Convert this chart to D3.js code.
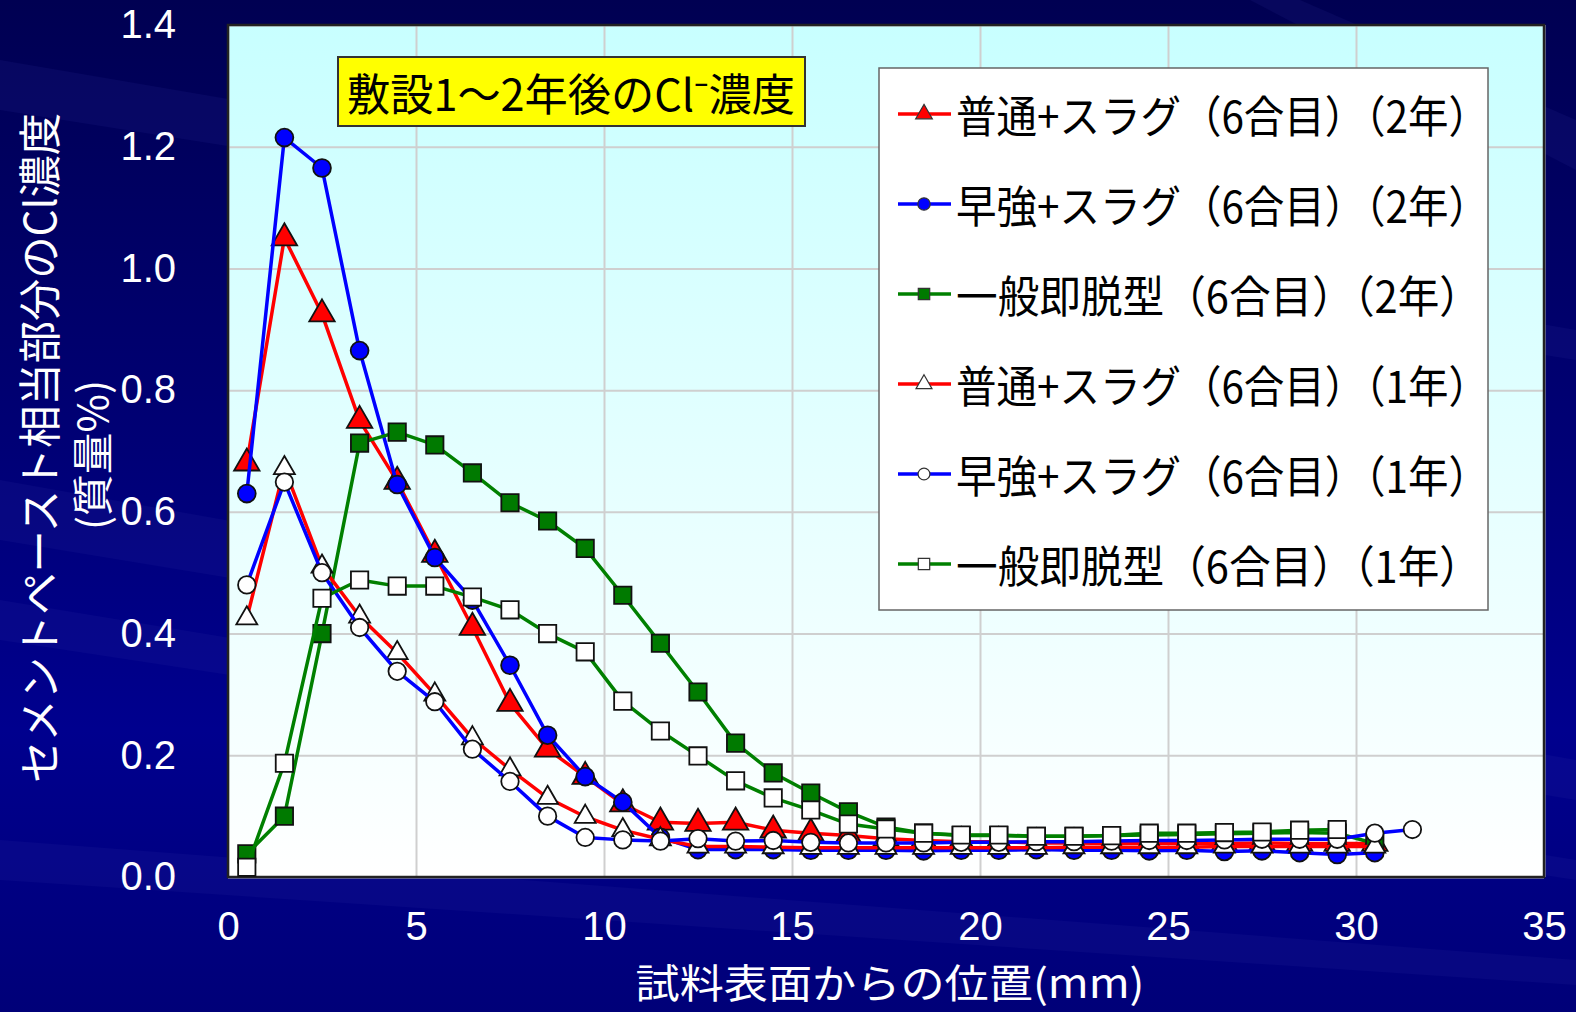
<!DOCTYPE html>
<html>
<head>
<meta charset="utf-8">
<script src="https://cdn.jsdelivr.net/npm/d3@7"></script>
<style>
body { margin: 0; background: #000070; }
svg { display: block; }
</style>
</head>
<body>
<svg class="chart"></svg>
<script>
// depth from the sample surface (mm)
const depthMm = [0.5, 1.5, 2.5, 3.5, 4.5, 5.5, 6.5, 7.5, 8.5, 9.5, 10.5, 11.5, 12.5, 13.5, 14.5, 15.5,
  16.5, 17.5, 18.5, 19.5, 20.5, 21.5, 22.5, 23.5, 24.5, 25.5, 26.5, 27.5, 28.5, 29.5, 30.5];
const depthMmLong = [0.5, 1.5, 2.5, 3.5, 4.5, 5.5, 6.5, 7.5, 8.5, 9.5, 10.5, 11.5, 12.5, 13.5, 14.5, 15.5,
  16.5, 17.5, 18.5, 19.5, 20.5, 21.5, 22.5, 23.5, 24.5, 25.5, 26.5, 27.5, 28.5, 29.5, 30.5, 31.5];
const depthMmShort = [0.5, 1.5, 2.5, 3.5, 4.5, 5.5, 6.5, 7.5, 8.5, 9.5, 10.5, 11.5, 12.5, 13.5, 14.5, 15.5,
  16.5, 17.5, 18.5, 19.5, 20.5, 21.5, 22.5, 23.5, 24.5, 25.5, 26.5, 27.5, 28.5, 29.5];

// Cl concentration (mass %)
const futsuSlag2 = [0.68, 1.05, 0.925, 0.75, 0.65, 0.53, 0.41, 0.285, 0.21, 0.165, 0.12, 0.09, 0.088, 0.09, 0.077, 0.072,
  0.068, 0.063, 0.06, 0.058, 0.058, 0.056, 0.056, 0.055, 0.056, 0.055, 0.055, 0.056, 0.055, 0.055, 0.055];
const soukyouSlag2 = [0.63, 1.215, 1.165, 0.865, 0.645, 0.525, 0.455, 0.348, 0.233, 0.165, 0.123, 0.065, 0.045, 0.045, 0.045, 0.044,
  0.044, 0.044, 0.043, 0.044, 0.044, 0.045, 0.044, 0.044, 0.043, 0.044, 0.042, 0.043, 0.04, 0.037, 0.04];
const ippan2 = [0.038, 0.1, 0.4, 0.713, 0.731, 0.71, 0.664, 0.615, 0.585, 0.54, 0.463, 0.384, 0.304, 0.22, 0.171, 0.138,
  0.107, 0.082, 0.072, 0.068, 0.068, 0.067, 0.067, 0.068, 0.069, 0.07, 0.071, 0.072, 0.073, 0.072, 0.055];
const futsuSlag1 = [0.425, 0.672, 0.51, 0.428, 0.368, 0.3, 0.228, 0.177, 0.13, 0.099, 0.077, 0.062, 0.05, 0.05, 0.049, 0.048,
  0.048, 0.048, 0.048, 0.048, 0.048, 0.048, 0.049, 0.049, 0.049, 0.049, 0.05, 0.05, 0.05, 0.05, 0.05];
const soukyouSlag1 = [0.48, 0.649, 0.5, 0.41, 0.338, 0.288, 0.21, 0.157, 0.1, 0.065, 0.061, 0.059, 0.063, 0.059, 0.06, 0.057,
  0.056, 0.056, 0.056, 0.057, 0.057, 0.058, 0.058, 0.059, 0.06, 0.06, 0.061, 0.062, 0.062, 0.062, 0.072, 0.078];
const ippan1 = [0.016, 0.187, 0.458, 0.488, 0.478, 0.478, 0.46, 0.439, 0.4, 0.37, 0.289, 0.24, 0.199, 0.158, 0.13, 0.11,
  0.087, 0.079, 0.072, 0.069, 0.069, 0.067, 0.067, 0.068, 0.072, 0.072, 0.073, 0.074, 0.077, 0.078];

const seriesNames = [
  "普通+スラグ（6合目）（2年）",
  "早強+スラグ（6合目）（2年）",
  "一般即脱型（6合目）（2年）",
  "普通+スラグ（6合目）（1年）",
  "早強+スラグ（6合目）（1年）",
  "一般即脱型（6合目）（1年）"
];
const xTicks = [0, 5, 10, 15, 20, 25, 30, 35];
const yTicks = [0, 0.2, 0.4, 0.6, 0.8, 1.0, 1.2, 1.4];
const titleText = "敷設1～2年後のCl⁻濃度";
const xTitle = "試料表面からの位置(mm)";
const yTitle1 = "セメントペースト相当部分のCl濃度";
const yTitle2 = "(質量%)";

const W = 1576, H = 1012;
const margin = {top: 25, right: 32, bottom: 135, left: 228};
const width = W - margin.left - margin.right;
const height = H - margin.top - margin.bottom;

const series = [
  {name: seriesNames[0], xs: depthMm, ys: futsuSlag2, color: "#ff0000", fill: "#ff0000", shape: d3.symbolTriangle, size: 280, legSize: 120},
  {name: seriesNames[1], xs: depthMm, ys: soukyouSlag2, color: "#0000ff", fill: "#0000ff", shape: d3.symbolCircle, size: 250, legSize: 120},
  {name: seriesNames[2], xs: depthMm, ys: ippan2, color: "#008000", fill: "#007a00", shape: d3.symbolSquare, size: 300, legSize: 130},
  {name: seriesNames[3], xs: depthMm, ys: futsuSlag1, color: "#ff0000", fill: "#ffffff", shape: d3.symbolTriangle, size: 190, legSize: 110},
  {name: seriesNames[4], xs: depthMmLong, ys: soukyouSlag1, color: "#0000ff", fill: "#ffffff", shape: d3.symbolCircle, size: 240, legSize: 110},
  {name: seriesNames[5], xs: depthMmShort, ys: ippan1, color: "#008000", fill: "#ffffff", shape: d3.symbolSquare, size: 300, legSize: 130}
];

const svg = d3.select(".chart")
  .attr("width", W)
  .attr("height", H);

const defs = svg.append("defs");
const bg = defs.append("linearGradient").attr("id", "bg")
  .attr("x1", 0).attr("y1", 0).attr("x2", 0).attr("y2", 1);
bg.append("stop").attr("offset", "0%").attr("stop-color", "#000052");
bg.append("stop").attr("offset", "40%").attr("stop-color", "#000072");
bg.append("stop").attr("offset", "72%").attr("stop-color", "#00008e");
bg.append("stop").attr("offset", "100%").attr("stop-color", "#000078");

const plotBg = defs.append("linearGradient").attr("id", "plotBg")
  .attr("x1", 0).attr("y1", 0).attr("x2", 0).attr("y2", 1);
plotBg.append("stop").attr("offset", "0%").attr("stop-color", "#c8ffff");
plotBg.append("stop").attr("offset", "100%").attr("stop-color", "#ffffff");

svg.append("rect").attr("width", W).attr("height", H).attr("fill", "url(#bg)");

// faint diagonal streaks of the slide background
const streaks = [
  [[0, 60], [W, 330], [W, 360], [0, 110]],
  [[0, 480], [W, 760], [W, 800], [0, 540]],
  [[0, 600], [W, 860], [W, 880], [0, 640]],
  [[0, 840], [W, 960], [W, 985], [0, 880]],
  [[1300, 0], [W, 120], [W, 170], [1250, 0]]
];
svg.selectAll(".streak")
  .data(streaks)
  .enter().append("path")
  .attr("class", "streak")
  .attr("d", (d) => d3.line()(d) + "Z")
  .attr("fill", "#3a3ab0")
  .attr("opacity", 0.12);

const chart = svg.append("g")
  .attr("transform", `translate(${margin.left}, ${margin.top})`);

const x = d3.scaleLinear().domain([0, 35]).range([0, width]);
const y = d3.scaleLinear().domain([0, 1.4]).range([height, 0]);

chart.append("rect")
  .attr("width", width)
  .attr("height", height)
  .attr("fill", "url(#plotBg)");

// grid
chart.append("g")
  .attr("class", "grid")
  .call(d3.axisLeft(y).tickValues(yTicks).tickSize(-width).tickFormat(""))
  .call((g) => g.select(".domain").remove())
  .call((g) => g.selectAll("line").attr("stroke", "#cfcfcf").attr("stroke-width", 2));

chart.append("g")
  .attr("class", "grid")
  .attr("transform", `translate(0,${height})`)
  .call(d3.axisBottom(x).tickValues(xTicks).tickSize(-height).tickFormat(""))
  .call((g) => g.select(".domain").remove())
  .call((g) => g.selectAll("line").attr("stroke", "#cfcfcf").attr("stroke-width", 2));

// axes labels
chart.append("g")
  .attr("transform", `translate(0,${height})`)
  .call(d3.axisBottom(x).tickValues(xTicks).tickSize(0).tickPadding(35).tickFormat(d3.format("d")))
  .call((g) => g.select(".domain").remove())
  .call((g) => g.selectAll("text")
    .attr("fill", "#ffffff")
    .style("font-family", "'Liberation Sans', Arial, sans-serif")
    .style("font-size", "40px"));

chart.append("g")
  .call(d3.axisLeft(y).tickValues(yTicks).tickSize(0).tickPadding(52).tickFormat(d3.format(".1f")))
  .call((g) => g.select(".domain").remove())
  .call((g) => g.selectAll("text")
    .attr("fill", "#ffffff")
    .style("font-family", "'Liberation Sans', Arial, sans-serif")
    .style("font-size", "40px"));

chart.append("rect")
  .attr("width", width)
  .attr("height", height)
  .attr("fill", "none")
  .attr("stroke", "#222")
  .attr("stroke-width", 2.5);

// series
const line = d3.line()
  .x((d) => x(d[0]))
  .y((d) => y(d[1]));

series.forEach((s, i) => {
  const pts = s.xs.map((v, k) => [v, s.ys[k]]);
  const g = chart.append("g").attr("class", "series-" + i);
  g.append("path")
    .datum(pts)
    .attr("d", line)
    .attr("fill", "none")
    .attr("stroke", s.color)
    .attr("stroke-width", 3.5)
    .attr("stroke-linejoin", "round");
  g.selectAll(".pt")
    .data(pts)
    .enter().append("path")
    .attr("class", "pt")
    .attr("transform", (d) => `translate(${x(d[0])},${y(d[1])})`)
    .attr("d", d3.symbol().type(s.shape).size(s.size))
    .attr("fill", s.fill)
    .attr("stroke", "#111")
    .attr("stroke-width", 1.8);
});

const jpFont = "'Noto Sans CJK JP', 'Noto Sans', sans-serif";

// title box
const tb = svg.append("g").attr("transform", "translate(338,57)");
tb.append("rect")
  .attr("width", 467).attr("height", 69)
  .attr("fill", "#ffff00")
  .attr("stroke", "#333").attr("stroke-width", 2);
tb.append("text")
  .attr("x", 9).attr("y", 35)
  .attr("dominant-baseline", "central")
  .attr("textLength", 448)
  .attr("lengthAdjust", "spacingAndGlyphs")
  .style("font-family", jpFont)
  .style("font-size", "44px")
  .attr("fill", "#000")
  .text(titleText);

// legend
const lg = svg.append("g").attr("transform", "translate(879,68)");
lg.append("rect")
  .attr("width", 609).attr("height", 542)
  .attr("fill", "#ffffff")
  .attr("stroke", "#666").attr("stroke-width", 1.5);

const legW = [533, 533, 525, 533, 533, 525];
const rows = lg.selectAll(".leg")
  .data(series)
  .enter().append("g")
  .attr("class", "leg")
  .attr("transform", (d, i) => `translate(0,${46 + i * 90})`);
rows.append("line")
  .attr("x1", 19).attr("x2", 72)
  .attr("stroke", (d) => d.color)
  .attr("stroke-width", 3.5);
rows.append("path")
  .attr("transform", "translate(45,0)")
  .attr("d", (d) => d3.symbol().type(d.shape).size(d.legSize)())
  .attr("fill", (d) => d.fill)
  .attr("stroke", "#333")
  .attr("stroke-width", 1.2);
rows.append("text")
  .attr("x", 77)
  .attr("dominant-baseline", "central")
  .attr("textLength", (d, i) => legW[i])
  .attr("lengthAdjust", "spacingAndGlyphs")
  .style("font-family", jpFont)
  .style("font-size", "44px")
  .attr("fill", "#000")
  .text((d) => d.name);

// axis titles
svg.append("text")
  .attr("x", 890).attr("y", 981)
  .attr("text-anchor", "middle")
  .attr("dominant-baseline", "central")
  .attr("textLength", 509)
  .attr("lengthAdjust", "spacingAndGlyphs")
  .style("font-family", jpFont)
  .style("font-size", "40px")
  .attr("fill", "#ffffff")
  .text(xTitle);

svg.append("text")
  .attr("transform", "translate(37,448) rotate(-90)")
  .attr("text-anchor", "middle")
  .attr("dominant-baseline", "central")
  .attr("textLength", 670)
  .attr("lengthAdjust", "spacingAndGlyphs")
  .style("font-family", jpFont)
  .style("font-size", "43px")
  .attr("fill", "#ffffff")
  .text(yTitle1);

svg.append("text")
  .attr("transform", "translate(90,455) rotate(-90)")
  .attr("text-anchor", "middle")
  .attr("dominant-baseline", "central")
  .attr("textLength", 150)
  .attr("lengthAdjust", "spacingAndGlyphs")
  .style("font-family", jpFont)
  .style("font-size", "41px")
  .attr("fill", "#ffffff")
  .text(yTitle2);
</script>
</body>
</html>
